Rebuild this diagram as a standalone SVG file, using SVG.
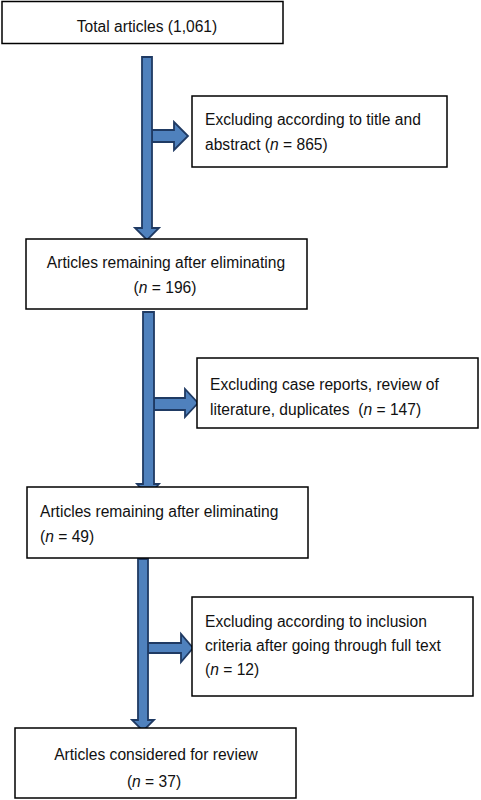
<svg xmlns="http://www.w3.org/2000/svg" width="481" height="800" viewBox="0 0 481 800">
<style>
.box{fill:#fff;stroke:#000;stroke-width:1.5}
.t{font-family:"Liberation Sans",Arial,sans-serif;font-size:15.6px;fill:#111}
.c{text-anchor:middle}
.arr{fill:#4f81bd;stroke:#1f3a63;stroke-width:1.8;stroke-linejoin:miter}
</style>
<rect width="481" height="800" fill="#fff"/>
<g id="connectors">
<path class="arr" d="M152,130 H174 V122 L188,136 L174,150 V142 H152 Z"/>
<path class="arr" d="M142,57 H152 V228 H159 L147,240 L135,228 H142 Z"/>
<path class="arr" d="M154,398 H185 V389 L198,403 L185,417 V410 H154 Z"/>
<path class="arr" d="M143,312 H154 V484 H159 L148,496 L137,484 H143 Z"/>
<path class="arr" d="M148,643 H181 V634 L193,648 L181,662 V653 H148 Z"/>
<path class="arr" d="M138,559 H148 V720 H154 L143,731 L132,720 H138 Z"/>
</g>
<g id="total">
<rect class="box" x="2" y="1.5" width="281" height="42"/>
<text class="t c" x="147" y="32">Total articles (1,061)</text>
</g>
<g id="exclude1">
<rect class="box" x="192" y="96" width="255" height="71"/>
<text class="t" x="205" y="125">Excluding according to title and</text>
<text class="t" x="205" y="150">abstract (<tspan font-style="italic">n</tspan> = 865)</text>
</g>
<g id="remaining1">
<rect class="box" x="26" y="239" width="281" height="70"/>
<text class="t c" x="166" y="268">Articles remaining after eliminating</text>
<text class="t c" x="165" y="293">(<tspan font-style="italic">n</tspan> = 196)</text>
</g>
<g id="exclude2">
<rect class="box" x="197" y="358" width="281" height="70"/>
<text class="t" x="210" y="390">Excluding case reports, review of</text>
<text class="t" x="210" y="415">literature, duplicates &#160;(<tspan font-style="italic">n</tspan> = 147)</text>
</g>
<g id="remaining2">
<rect class="box" x="27" y="487" width="281" height="71"/>
<text class="t" x="40" y="517">Articles remaining after eliminating</text>
<text class="t" x="40" y="542">(<tspan font-style="italic">n</tspan> = 49)</text>
</g>
<g id="exclude3">
<rect class="box" x="192" y="597" width="281" height="99"/>
<text class="t" x="205" y="627">Excluding according to inclusion</text>
<text class="t" x="205" y="651">criteria after going through full text</text>
<text class="t" x="205" y="675">(<tspan font-style="italic">n</tspan> = 12)</text>
</g>
<g id="review">
<rect class="box" x="15" y="728" width="281" height="70"/>
<text class="t c" x="156" y="760">Articles considered for review</text>
<text class="t c" x="154" y="787">(<tspan font-style="italic">n</tspan> = 37)</text>
</g>
</svg>
